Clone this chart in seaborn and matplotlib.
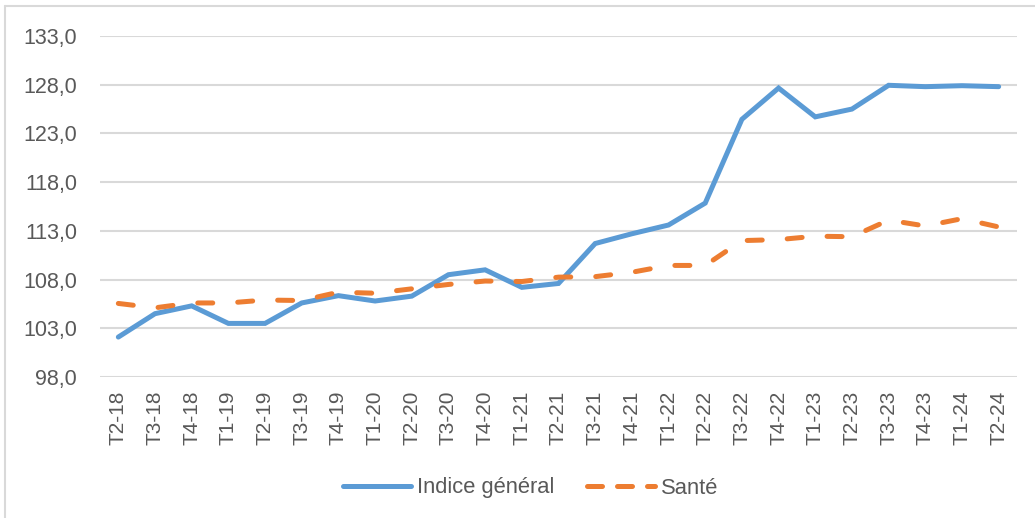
import pandas as pd
import numpy as np
import matplotlib.pyplot as plt
import seaborn as sns
from matplotlib.lines import Line2D

quarters = ['T2-18', 'T3-18', 'T4-18', 'T1-19', 'T2-19', 'T3-19', 'T4-19',
            'T1-20', 'T2-20', 'T3-20', 'T4-20', 'T1-21', 'T2-21', 'T3-21',
            'T4-21', 'T1-22', 'T2-22', 'T3-22', 'T4-22', 'T1-23', 'T2-23',
            'T3-23', 'T4-23', 'T1-24', 'T2-24']
indice_general = [102.1, 104.5, 105.3, 103.5, 103.5, 105.6, 106.35, 105.8, 106.3,
                  108.5, 109.0, 107.2, 107.6, 111.7, 112.7, 113.6, 115.85, 124.45,
                  127.66, 124.7, 125.5, 127.94, 127.8, 127.9, 127.8]
sante = [105.55, 105.1, 105.6, 105.6, 105.9, 105.85, 106.7, 106.6, 107.05, 107.5,
         107.85, 107.8, 108.25, 108.3, 108.75, 109.45, 109.45, 112.0, 112.1, 112.45,
         112.4, 114.1, 113.5, 114.25, 113.4]
yticks = np.arange(98, 134, 5)

blue = '#5B9BD5'
orange = '#ED7D31'
grey_txt = '#595959'

sns.set_style('white')
plt.rcParams['font.family'] = ['Liberation Sans', 'DejaVu Sans']

df = pd.DataFrame({'pos': np.arange(len(quarters)), 'general': indice_general, 'sante': sante})

fig = plt.figure(figsize=(10.35, 5.18), dpi=100)
ax = fig.add_axes([100 / 1035, 1 - 377 / 518, 917 / 1035, 341 / 518])

sns.lineplot(data=df, x='pos', y='general', ax=ax, color=blue, linewidth=3.6,
             solid_capstyle='round', solid_joinstyle='miter')
sns.lineplot(data=df, x='pos', y='sante', ax=ax, color=orange, linewidth=3.6,
             dashes=False, ls=(0, (3, 5)), dash_capstyle='round')

ax.set_xlim(-0.5, len(quarters) - 0.5)
ax.set_ylim(98, 133)
ax.set_yticks(yticks)
ax.set_yticklabels([f'{v:.1f}'.replace('.', ',') for v in yticks], fontsize=15.5, color=grey_txt)
ax.set_xticks(df['pos'])
ax.set_xticklabels(quarters, rotation=90, fontsize=15, color=grey_txt)
ax.tick_params(axis='y', length=0, pad=16.5)
ax.tick_params(axis='x', length=0, pad=10)
ax.set_xlabel('')
ax.set_ylabel('')
ax.grid(axis='y', color='#D9D9D9', linewidth=1.5)
ax.set_axisbelow(True)
for s in ax.spines.values():
    s.set_visible(False)

handles = [Line2D([], [], color=blue, linewidth=3.6, solid_capstyle='round'),
           Line2D([], [], color=orange, linewidth=3.6, ls=(0, (3, 3)), dash_capstyle='round')]
fig.legend(handles, ['Indice général', 'Santé'], loc='center', bbox_to_anchor=(0.5126, 1 - 488 / 518),
           ncol=2, frameon=False, fontsize=15.8, handlelength=3.1, handletextpad=0.25,
           columnspacing=1.5, labelcolor=grey_txt)

# outer frame (top and left edges only visible)
fig.add_artist(Line2D([5 / 1035, 5 / 1035], [0, 1 - 6 / 518], color='#D9D9D9', linewidth=1.5,
                      transform=fig.transFigure))
fig.add_artist(Line2D([5 / 1035, 1], [1 - 6 / 518, 1 - 6 / 518], color='#D9D9D9', linewidth=1.5,
                      transform=fig.transFigure))

fig.savefig('out.png', dpi=100)
